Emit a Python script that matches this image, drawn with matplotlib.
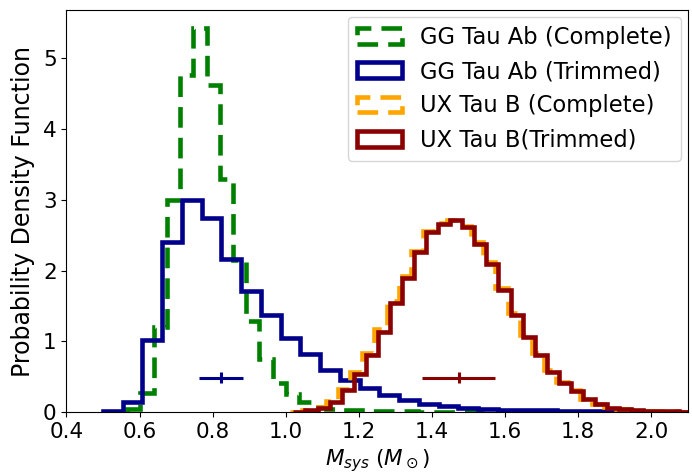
import matplotlib
matplotlib.use("Agg")
import matplotlib.pyplot as plt
import numpy as np

# GG Tau Ab (Complete) - bin edges start / width and densities
gg_c_start, gg_c_width = 0.566, 0.0362
gg_c_vals = [0.05, 0.27, 1.20, 3.00, 4.76, 5.42, 4.62, 3.30, 2.15, 1.29, 0.75,
             0.41, 0.26, 0.15, 0.08, 0.05, 0.03, 0.03, 0.02, 0.02, 0.015, 0.012,
             0.01, 0.01, 0.008, 0.006, 0.004]

# GG Tau Ab (Trimmed)
gg_t_start, gg_t_width = 0.500, 0.054
gg_t_vals = [0.02, 0.15, 1.02, 2.41, 3.00, 2.74, 2.17, 1.71, 1.37, 1.05, 0.82,
             0.60, 0.46, 0.34, 0.25, 0.17, 0.12, 0.085, 0.065, 0.048, 0.036,
             0.03, 0.025, 0.02, 0.016, 0.013, 0.01, 0.008, 0.006, 0.005]

# UX Tau B (Complete)
ux_c_start, ux_c_width = 1.011, 0.0331
ux_c_vals = [0.01, 0.035, 0.07, 0.16, 0.33, 0.57, 0.84, 1.17, 1.57, 1.92, 2.28,
             2.56, 2.67, 2.72, 2.63, 2.40, 2.12, 1.76, 1.40, 1.09, 0.83, 0.59,
             0.43, 0.31, 0.19, 0.12, 0.07, 0.045, 0.032, 0.023, 0.018, 0.012,
             0.01, 0.006]

# UX Tau B (Trimmed)
ux_t_start, ux_t_width = 1.021, 0.033
ux_t_vals = [0.01, 0.03, 0.065, 0.145, 0.31, 0.54, 0.81, 1.13, 1.54, 1.89, 2.26,
             2.55, 2.66, 2.71, 2.62, 2.38, 2.10, 1.73, 1.37, 1.06, 0.81, 0.57,
             0.41, 0.30, 0.18, 0.11, 0.066, 0.042, 0.03, 0.022, 0.018, 0.012,
             0.01]

# mass estimates with uncertainties
pt_x = [0.824, 1.473]
pt_y = [0.49, 0.49]
pt_xerr = [0.06, 0.10]
pt_yerr = [0.08, 0.08]

def step_hist(ax, start, width, vals, **kw):
    e = start + width*np.arange(len(vals)+1)
    ax.hist(e[:-1], bins=e, weights=vals, histtype='step', **kw)

plt.rcParams['font.size'] = 15.5
fig, ax = plt.subplots(figsize=(6.92, 4.76), dpi=100)
fig.subplots_adjust(left=0.096, right=0.994, top=0.979, bottom=0.134)

dash = (0, (4.5, 2.2))
step_hist(ax, gg_c_start, gg_c_width, gg_c_vals, color='green', lw=3.3,
          linestyle=dash, label='GG Tau Ab (Complete)')
step_hist(ax, gg_t_start, gg_t_width, gg_t_vals, color='darkblue', lw=3.3,
          label='GG Tau Ab (Trimmed)')
step_hist(ax, ux_c_start, ux_c_width, ux_c_vals, color='orange', lw=3.3,
          linestyle=dash, label='UX Tau B (Complete)')
step_hist(ax, ux_t_start, ux_t_width, ux_t_vals, color='darkred', lw=3.3,
          label='UX Tau B(Trimmed)')

ax.errorbar(pt_x[0], pt_y[0], xerr=pt_xerr[0], yerr=pt_yerr[0], color='darkblue',
            lw=2.2, capsize=0)
ax.errorbar(pt_x[1], pt_y[1], xerr=pt_xerr[1], yerr=pt_yerr[1], color='darkred',
            lw=2.2, capsize=0)

ax.set_xlim(0.4, 2.1)
ax.set_ylim(0, 5.68)
ax.set_xticks(np.arange(0.4, 2.01, 0.2))
ax.set_xlabel(r'$M_{sys}$ $(M_\odot)$')
ax.set_ylabel('Probability Density Function', fontsize=17, labelpad=6)
ax.legend(loc='upper right', fontsize=16.3, borderaxespad=0.3)
fig.savefig('out.png')
